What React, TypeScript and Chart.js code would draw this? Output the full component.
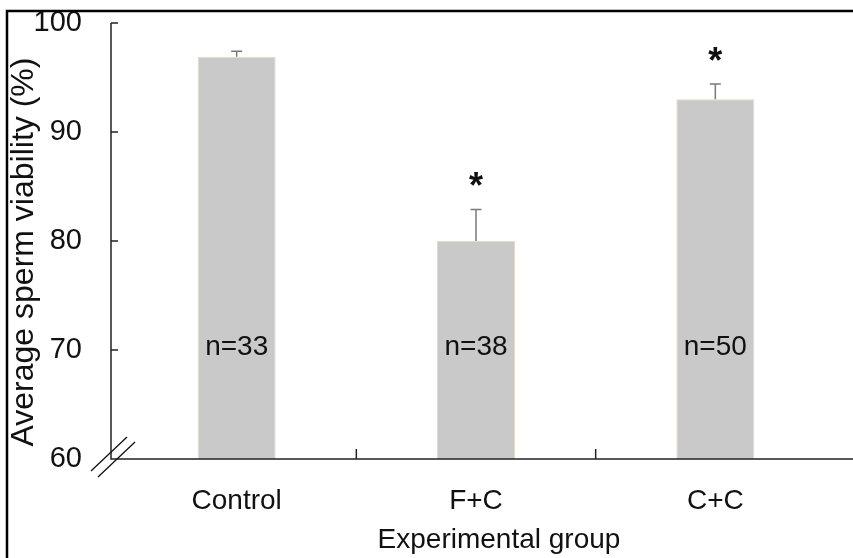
import React, { useEffect, useRef } from "react";
import { Chart, registerables } from "chart.js";

Chart.register(...registerables);

const categories = ["Control", "F+C", "C+C"];
const meanViability = [96.9, 80.0, 93.0];
const errorSE = [0.5, 2.9, 1.4];
const sampleLabels = ["n=33", "n=38", "n=50"];
const significant = [false, true, true];
const yTicks = [60, 70, 80, 90, 100];
const yMin = 60;
const yMax = 100;
const sampleLabelValue = 70;
const xTitle = "Experimental group";
const yTitle = "Average sperm viability (%)";

const FONT = "'Liberation Sans', Arial, Helvetica, sans-serif";

const decor = {
  id: "decor",
  afterDatasetsDraw(chart: any) {
    const ctx = chart.ctx;
    const y = chart.scales.y;
    const meta = chart.getDatasetMeta(0);
    ctx.save();
    meta.data.forEach((bar: any, i: number) => {
      const cx = bar.x;
      const top = y.getPixelForValue(meanViability[i]);
      const eTop = y.getPixelForValue(meanViability[i] + errorSE[i]);
      ctx.strokeStyle = "#7a7a7a";
      ctx.lineWidth = 1.5;
      ctx.beginPath();
      ctx.moveTo(cx, top);
      ctx.lineTo(cx, eTop);
      ctx.moveTo(cx - 5.5, eTop);
      ctx.lineTo(cx + 5.5, eTop);
      ctx.stroke();

      ctx.fillStyle = "#111";
      ctx.font = `28px ${FONT}`;
      ctx.textAlign = "center";
      ctx.textBaseline = "alphabetic";
      ctx.fillText(sampleLabels[i], cx, y.getPixelForValue(sampleLabelValue) + 5);

      if (significant[i]) {
        ctx.font = `bold 36px ${FONT}`;
        const m = ctx.measureText("*");
        const cy = eTop - 30;
        const base = cy + (m.actualBoundingBoxAscent - m.actualBoundingBoxDescent) / 2;
        ctx.fillText("*", cx, base);
      }
    });
    ctx.restore();
  },
  afterDraw(chart: any) {
    const ctx = chart.ctx;
    const y = chart.scales.y;
    const x = chart.scales.x;
    const area = chart.chartArea;
    const ax = area.left - 6;
    const bottom = area.bottom;
    ctx.save();
    // frame
    ctx.strokeStyle = "#000";
    ctx.lineWidth = 2.5;
    ctx.beginPath();
    ctx.moveTo(7, chart.height);
    ctx.lineTo(7, 11);
    ctx.lineTo(chart.width, 11);
    ctx.stroke();

    // axes
    ctx.strokeStyle = "#222";
    ctx.lineWidth = 1.5;
    ctx.beginPath();
    ctx.moveTo(ax, y.getPixelForValue(yMax));
    ctx.lineTo(ax, bottom);
    ctx.lineTo(chart.width, bottom);
    yTicks.forEach((v) => {
      const py = y.getPixelForValue(v);
      ctx.moveTo(ax, py);
      ctx.lineTo(ax + 7, py);
    });
    for (let i = 1; i < categories.length; i++) {
      const px = (x.getPixelForValue(i - 1) + x.getPixelForValue(i)) / 2;
      ctx.moveTo(px, bottom);
      ctx.lineTo(px, bottom - 10);
    }
    ctx.stroke();

    // axis break marks
    ctx.lineWidth = 1.3;
    ctx.strokeStyle = "#111";
    ctx.beginPath();
    ctx.moveTo(ax - 20, bottom + 12);
    ctx.lineTo(ax + 16, bottom - 22);
    ctx.moveTo(ax - 13, bottom + 18);
    ctx.lineTo(ax + 24, bottom - 17);
    ctx.stroke();

    // titles
    ctx.fillStyle = "#111";
    ctx.textAlign = "center";
    ctx.textBaseline = "alphabetic";
    ctx.font = `28px ${FONT}`;
    ctx.fillText(xTitle, 499, 548);

    ctx.translate(33, 252);
    ctx.rotate(-Math.PI / 2);
    ctx.font = `32px ${FONT}`;
    ctx.fillText(yTitle, 0, 0);
    ctx.restore();
  },
};

export default function App() {
  const ref = useRef<HTMLCanvasElement | null>(null);
  useEffect(() => {
    if (!ref.current) return;
    Chart.defaults.font.family = FONT;
    const chart = new Chart(ref.current, {
      type: "bar",
      data: {
        labels: categories,
        datasets: [
          {
            data: meanViability,
            backgroundColor: "#c9c9c9",
            borderColor: "#e2dbc6",
            borderWidth: 1,
            barPercentage: 0.326,
            categoryPercentage: 1,
          },
        ],
      },
      options: {
        responsive: false,
        animation: false,
        events: [],
        layout: { padding: { top: 23, right: 18, left: 0, bottom: 0 } },
        plugins: { legend: { display: false }, tooltip: { enabled: false } },
        scales: {
          x: {
            offset: true,
            grid: { display: false, drawTicks: false },
            border: { display: false },
            ticks: { color: "#111", font: { size: 28 }, padding: 25 },
            afterFit: (s: any) => {
              s.height = 99;
              s.paddingLeft = 0;
              s.paddingRight = 0;
            },
          },
          y: {
            min: yMin,
            max: yMax,
            grid: { display: false, drawTicks: false },
            border: { display: false },
            ticks: { color: "#111", font: { size: 29 }, padding: 35 },
            afterBuildTicks: (s: any) => {
              s.ticks = yTicks.map((v) => ({ value: v }));
            },
            afterFit: (s: any) => {
              s.width = 117;
              s.paddingTop = 0;
              s.paddingBottom = 0;
            },
          },
        },
      },
      plugins: [decor],
    });
    return () => chart.destroy();
  }, []);
  return (
    <div style={{ position: "absolute", left: 0, top: 0, width: 853, height: 558, background: "#fff" }}>
      <canvas ref={ref} width={853} height={558} />
    </div>
  );
}
